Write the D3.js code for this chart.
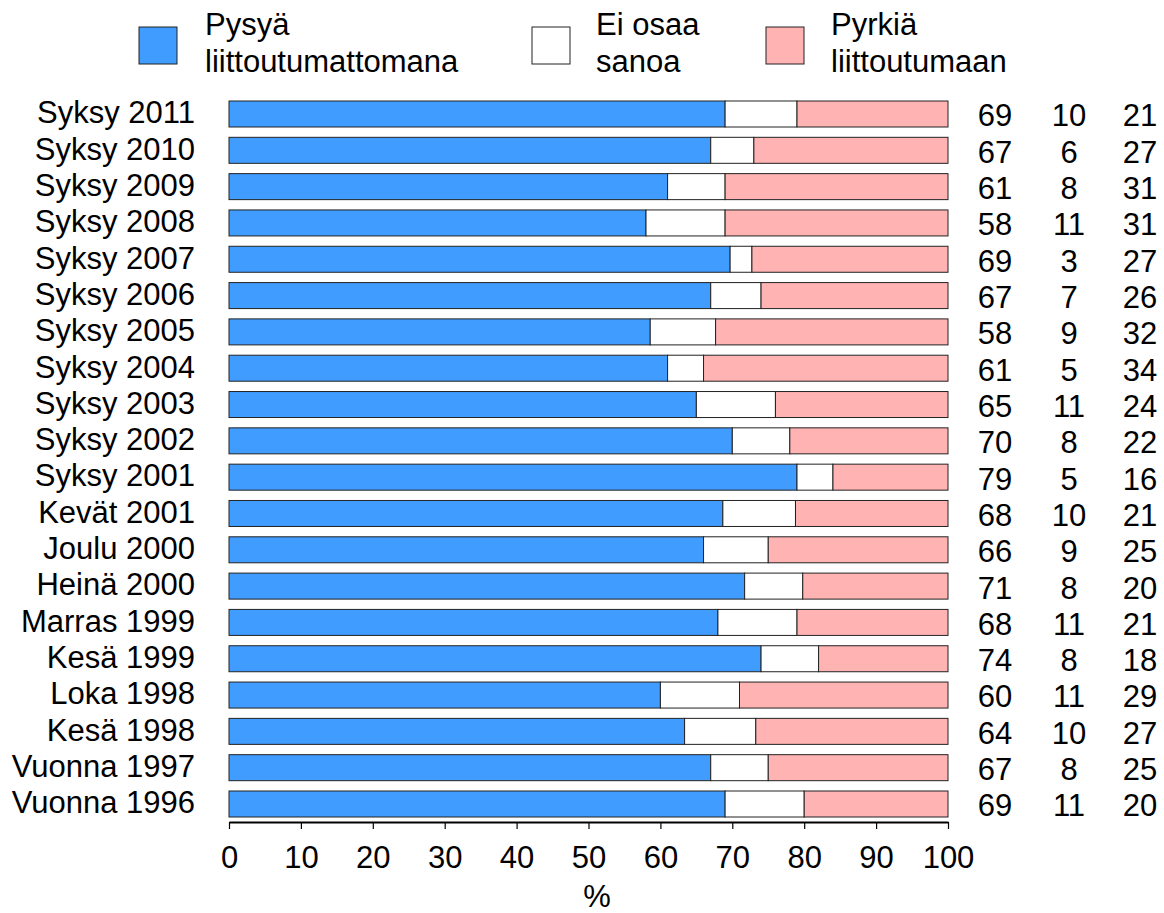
<!DOCTYPE html>
<html>
<head>
<meta charset="utf-8">
<script src="https://cdn.jsdelivr.net/npm/d3@7/dist/d3.min.js"></script>
<style>
  html, body { margin: 0; padding: 0; background: #fff; }
  svg text { font-family: "Liberation Sans", Arial, sans-serif; fill: #000; }
</style>
</head>
<body>
<svg id="chart" width="1164" height="913"></svg>
<script>
// Survey periods, top to bottom
const periods = [
  "Syksy 2011", "Syksy 2010", "Syksy 2009", "Syksy 2008", "Syksy 2007",
  "Syksy 2006", "Syksy 2005", "Syksy 2004", "Syksy 2003", "Syksy 2002",
  "Syksy 2001", "Kevät 2001", "Joulu 2000", "Heinä 2000", "Marras 1999",
  "Kesä 1999", "Loka 1998", "Kesä 1998", "Vuonna 1997", "Vuonna 1996"
];
// Share (%) answering each option
const stayNonAligned = [69, 67, 61, 58, 69, 67, 58, 61, 65, 70, 79, 68, 66, 71, 68, 74, 60, 64, 67, 69];
const cannotSay      = [10, 6, 8, 11, 3, 7, 9, 5, 11, 8, 5, 10, 9, 8, 11, 8, 11, 10, 8, 11];
const seekAlliance   = [21, 27, 31, 31, 27, 26, 32, 34, 24, 22, 16, 21, 25, 20, 21, 18, 29, 27, 25, 20];

const seriesNames = ["Pysyä\nliittoutumattomana", "Ei osaa\nsanoa", "Pyrkiä\nliittoutumaan"];
const seriesColors = ["#409CFF", "#FFFFFF", "#FFB3B3"];
const xTicks = [0, 10, 20, 30, 40, 50, 60, 70, 80, 90, 100];

const svg = d3.select("#chart");
const FONT = 31;

const x = d3.scaleLinear().domain([0, 100]).range([229, 948]);
const y = d3.scalePoint().domain(periods).range([114, 804]);
const barH = 26;

// Stack each row, normalised to 100 %
const rows = periods.map((p, i) => {
  const vals = [stayNonAligned[i], cannotSay[i], seekAlliance[i]];
  const total = d3.sum(vals);
  let cum = 0;
  return {
    period: p,
    vals,
    segs: vals.map((v, k) => {
      const s = { k, x0: cum / total * 100, x1: (cum + v) / total * 100 };
      cum += v;
      return s;
    })
  };
});

// Bars
const rowG = svg.append("g").selectAll("g").data(rows).join("g")
  .attr("transform", d => `translate(0,${y(d.period) - barH / 2})`);

rowG.selectAll("rect").data(d => d.segs).join("rect")
  .attr("x", d => x(d.x0))
  .attr("width", d => x(d.x1) - x(d.x0))
  .attr("y", 0)
  .attr("height", barH)
  .attr("fill", d => seriesColors[d.k])
  .attr("stroke", "#222")
  .attr("stroke-width", 1);

// Period labels
svg.append("g").selectAll("text").data(periods).join("text")
  .attr("x", 195)
  .attr("y", d => y(d))
  .attr("dy", "0.3em")
  .attr("text-anchor", "end")
  .attr("font-size", FONT)
  .text(d => d);

// Value columns
const colX = [995, 1069, 1140];
rowG.selectAll("text.val").data(d => d.vals).join("text")
  .attr("class", "val")
  .attr("x", (d, k) => colX[k])
  .attr("y", barH / 2)
  .attr("dy", "0.4em")
  .attr("text-anchor", "middle")
  .attr("font-size", FONT)
  .text(d => d);

// X axis
const axis = d3.axisBottom(x).tickValues(xTicks).tickSize(7).tickSizeOuter(0).tickPadding(17);
const ax = svg.append("g").attr("transform", "translate(0,822)").call(axis);
ax.select(".domain").attr("stroke", "#000").attr("stroke-width", 2);
ax.selectAll(".tick line").attr("stroke", "#000").attr("stroke-width", 1.2);
ax.selectAll(".tick text")
  .attr("font-size", FONT)
  .attr("font-family", "Liberation Sans, Arial, sans-serif")
  .attr("fill", "#000");

svg.append("text")
  .attr("x", 597).attr("y", 907)
  .attr("text-anchor", "middle")
  .attr("font-size", FONT)
  .text("%");

// Legend
const legendX = [139, 532, 766];
const legendTextX = [205, 596, 831];
const lg = svg.append("g").selectAll("g").data(seriesNames).join("g");
lg.append("rect")
  .attr("x", (d, i) => legendX[i])
  .attr("y", 27)
  .attr("width", 38)
  .attr("height", 37)
  .attr("fill", (d, i) => seriesColors[i])
  .attr("stroke", "#222")
  .attr("stroke-width", 1);
lg.append("text")
  .attr("font-size", FONT)
  .each(function (d, i) {
    d3.select(this).selectAll("tspan").data(d.split("\n")).join("tspan")
      .attr("x", legendTextX[i])
      .attr("y", (t, j) => 35 + j * 37)
      .text(t => t);
  });
</script>
</body>
</html>
